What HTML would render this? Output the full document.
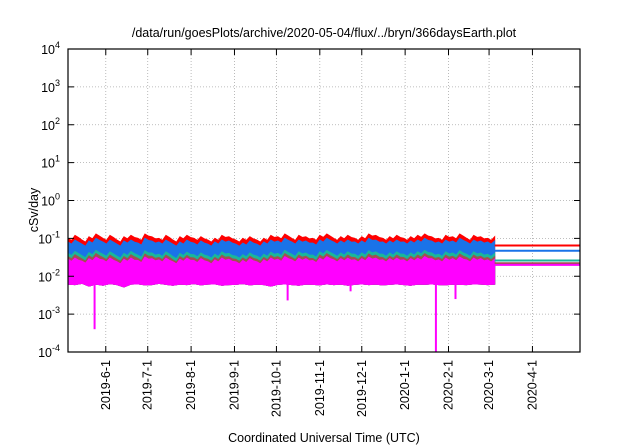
<!DOCTYPE html>
<html><head><meta charset="utf-8"><style>
body{margin:0;background:#fff}
svg{display:block;font-family:"Liberation Sans",Arial,sans-serif}
</style></head><body>
<svg id="c" width="640" height="448" viewBox="0 0 640 448" xmlns="http://www.w3.org/2000/svg">
<rect width="640" height="448" fill="#fff"/>
<text x="324" y="37" font-size="12.5" text-anchor="middle">/data/run/goesPlots/archive/2020-05-04/flux/../bryn/366daysEarth.plot</text>
<text transform="translate(38,210) rotate(-90)" font-size="12.5" text-anchor="middle">cSv/day</text>
<text x="324" y="442" font-size="12.5" text-anchor="middle">Coordinated Universal Time (UTC)</text>
<g id="grid"></g><g id="data"></g><g id="axes"></g>
</svg>
<script>
const tickLabels=["2019-6-1","2019-7-1","2019-8-1","2019-9-1","2019-10-1","2019-11-1","2019-12-1","2020-1-1","2020-2-1","2020-3-1","2020-4-1"];
const tickDays=[27,57,88,119,149,180,210,241,272,301,332];
const yExps=[-4,-3,-2,-1,0,1,2,3,4];
const dataDays=305;
const redTop=[0.10,0.12,0.09,0.11,0.13,0.10,0.12,0.09,0.11,0.12,0.10,0.13,0.11,0.10,0.12,0.09,0.11,0.12,0.10,0.11,0.09,0.10,0.12,0.11,0.09,0.10,0.11,0.09,0.10,0.12,0.11,0.13,0.10,0.12,0.11,0.10,0.12,0.13,0.10,0.11,0.12,0.10,0.11,0.13,0.12,0.10,0.11,0.12,0.10,0.11,0.12,0.13,0.11,0.10,0.12,0.11,0.13,0.10,0.12,0.11,0.10,0.11];
const blueTop=[0.08,0.09,0.07,0.085,0.10,0.08,0.09,0.07,0.085,0.09,0.075,0.10,0.085,0.08,0.09,0.07,0.08,0.09,0.075,0.085,0.07,0.08,0.09,0.085,0.07,0.075,0.085,0.07,0.08,0.09,0.085,0.10,0.08,0.09,0.085,0.075,0.09,0.10,0.08,0.085,0.09,0.08,0.085,0.10,0.09,0.08,0.085,0.09,0.08,0.085,0.09,0.10,0.085,0.08,0.09,0.085,0.10,0.08,0.09,0.085,0.08,0.085];
const tealTop=[0.04,0.045,0.035,0.042,0.048,0.038,0.044,0.034,0.04,0.045,0.036,0.047,0.041,0.038,0.044,0.033,0.04,0.043,0.037,0.041,0.034,0.038,0.044,0.04,0.034,0.037,0.041,0.034,0.038,0.043,0.04,0.048,0.038,0.044,0.041,0.036,0.044,0.048,0.038,0.041,0.044,0.038,0.041,0.047,0.044,0.038,0.041,0.044,0.038,0.041,0.044,0.048,0.041,0.038,0.044,0.041,0.047,0.038,0.044,0.041,0.038,0.04];
const magTop=[0.028,0.03,0.025,0.029,0.032,0.027,0.03,0.024,0.028,0.03,0.026,0.032,0.029,0.027,0.03,0.024,0.028,0.03,0.026,0.029,0.024,0.027,0.03,0.028,0.024,0.026,0.029,0.024,0.027,0.03,0.028,0.033,0.027,0.03,0.029,0.026,0.03,0.033,0.027,0.029,0.03,0.027,0.029,0.032,0.03,0.027,0.029,0.03,0.027,0.029,0.03,0.033,0.029,0.027,0.03,0.029,0.032,0.027,0.03,0.029,0.027,0.028];
const magBot=[0.0062,0.006,0.0065,0.0055,0.0062,0.0058,0.0064,0.006,0.0052,0.0062,0.0063,0.0059,0.006,0.0065,0.0061,0.0058,0.0062,0.006,0.0064,0.0059,0.0062,0.0063,0.0058,0.006,0.0061,0.0064,0.0059,0.0062,0.006,0.0055,0.0061,0.0063,0.006,0.0058,0.0062,0.0061,0.0059,0.0063,0.006,0.0062,0.0058,0.0061,0.0063,0.006,0.0062,0.0059,0.0061,0.0063,0.006,0.0058,0.0062,0.0061,0.0063,0.006,0.0059,0.0062,0.0061,0.006,0.0063,0.0062,0.006,0.0062];
const spikeDays=[19,157,202,263,277];
const spikeVals=[0.0004,0.0023,0.004,0.0001,0.0025];
const endNames=["red","blue","teal","brown","magenta"];
const endVals=[0.065,0.047,0.026,0.022,0.020];
const endColors=["#f00","#1a73e8","#19b79a","#a05050","#f0f"];
const X0=68,X1=580,Y0=49,Y1=352,DAYS=366;
const xs=d=>X0+(X1-X0)*d/DAYS;
const ys=v=>Y0+(4-Math.log10(v))*(Y1-Y0)/8;
const NS="http://www.w3.org/2000/svg";
function mk(t,a,p){const e=document.createElementNS(NS,t);for(const k in a)e.setAttribute(k,a[k]);p.appendChild(e);return e;}
const grid=document.getElementById('grid'),data=document.getElementById('data'),axes=document.getElementById('axes');
yExps.forEach(e=>{const y=ys(Math.pow(10,e));
 if(e>-4&&e<4){const l=mk('line',{x1:X0,x2:X1,y1:y,y2:y,stroke:'#aaa','stroke-width':0.8,'stroke-dasharray':'1,2'},grid);
 
 }
 mk('line',{x1:X0,x2:X0+6,y1:y,y2:y,stroke:'#000'},axes);mk('line',{x1:X1,x2:X1-6,y1:y,y2:y,stroke:'#000'},axes);
 const t=mk('text',{x:X0-8,y:y+5,'font-size':12.5,'text-anchor':'end'},axes);
 
 
 t.textContent='10';const s=mk('tspan',{dy:-6,'font-size':9},t);s.textContent=e;});
tickDays.forEach((d,i)=>{const x=xs(d);
 const l=mk('line',{x1:x,x2:x,y1:Y0,y2:Y1,stroke:'#aaa','stroke-width':0.8,'stroke-dasharray':'1,2'},grid);
 
 
 mk('line',{x1:x,x2:x,y1:Y1,y2:Y1-6,stroke:'#000'},axes);mk('line',{x1:x,x2:x,y1:Y0,y2:Y0+6,stroke:'#000'},axes);
 const t=mk('text',{transform:`translate(${x+4},${Y1+8}) rotate(-90)`,'font-size':12.5,'text-anchor':'end'},axes);
 
 
 t.textContent=tickLabels[i];});
const fr=mk('rect',{x:X0,y:Y0,width:X1-X0,height:Y1-Y0,fill:'none',stroke:'#000','stroke-width':1.2},axes);


function band(top,bot,color,name){const n=top.length;let pts=[];
 for(let i=0;i<n;i++){const d=i*dataDays/(n-1);pts.push(xs(d)+','+ys(top[i]));if(i<n-1){pts.push(xs(d+dataDays/(n-1)/2)+','+ys(top[i]*0.88));}}
 for(let i=n-1;i>=0;i--){const d=i*dataDays/(n-1);pts.push(xs(d)+','+ys(bot[i]));}
 const p=mk('polygon',{points:pts.join(' '),fill:color,stroke:color,'stroke-width':1},data);
 
 }
band(redTop,magBot,'#f00','red-series');
band(blueTop,magBot,'#1a73e8','blue-series');
band(tealTop,magBot,'#19b79a','teal-series');
band(tealTop.map(v=>v*0.82),magBot,'#a05050','brown-series');
band(magTop,magBot,'#f0f','magenta-series');
spikeDays.forEach((d,i)=>{const l=mk('line',{x1:xs(d),x2:xs(d),y1:ys(0.007),y2:Math.min(ys(spikeVals[i]),Y1),stroke:'#f0f','stroke-width':2},data);
 
 });
endVals.forEach((v,i)=>{const l=mk('line',{x1:xs(dataDays),x2:X1,y1:ys(v),y2:ys(v),stroke:endColors[i],'stroke-width':2},data);
 
 });
</script>
</body></html>
